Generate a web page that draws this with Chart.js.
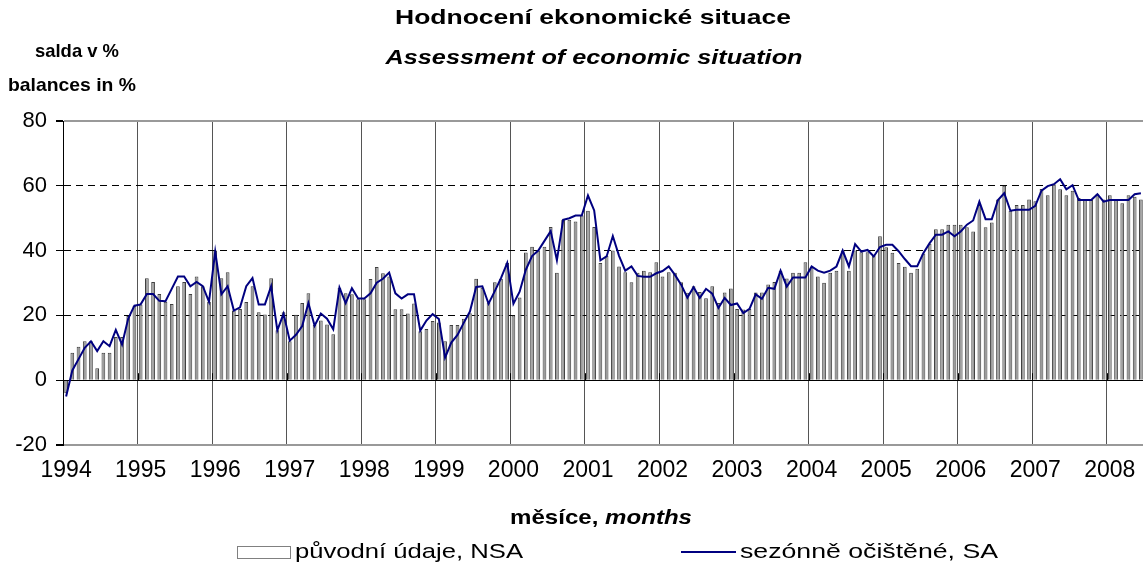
<!DOCTYPE html>
<html>
<head>
<meta charset="utf-8">
<script src="https://cdn.jsdelivr.net/npm/chart.js@4.4.0/dist/chart.umd.min.js"></script>
<style>
  html, body { margin: 0; padding: 0; background: #fff; overflow: hidden; }
  #wrap { width: 1144px; height: 574px; }
</style>
</head>
<body>
<div id="wrap"><canvas id="graf" width="1144" height="574"></canvas></div>
<script>
// years shown on the x axis (one label per January)
const years = [1994, 1995, 1996, 1997, 1998, 1999, 2000, 2001, 2002, 2003, 2004, 2005, 2006, 2007, 2008];

// původní údaje, NSA (monthly, Jan 1994 - Jun 2008)
const nsa = [
  -4, 8.5, 10.3, 12, 12, 3.7, 8.5, 8.5, 13.3, 13.3, 19.8, 23,          // 1994
  23.4, 31.5, 30.3, 26.6, 24.2, 23.5, 29, 30.3, 26.6, 32, 29, 24.2,    // 1995
  40, 31.5, 33.3, 21.5, 22, 24.1, 29, 21, 20.3, 31.5, 15.4, 21,        // 1996
  12, 20.2, 23.8, 26.8, 17, 18.4, 17.2, 14.2, 28.5, 26.8, 26.5, 25,    // 1997
  25, 31.2, 34.9, 33, 32, 21.9, 21.9, 20.6, 23.7, 15.1, 15.8, 18.3,    // 1998
  17.8, 12, 17, 17, 19, 20.7, 31.3, 28.5, 24, 30.2, 31.3, 36.2,        // 1999
  20, 25.5, 39.4, 41.2, 40, 41.2, 47.3, 33.2, 49.5, 49.5, 49, 50.9,    // 2000
  52.3, 47.3, 36.2, 38.4, 40, 35.1, 33.3, 30.2, 33.2, 33.8, 33.3, 36.4, // 2001
  32, 33.3, 33.2, 30.2, 27, 29, 27.2, 25.3, 29, 23.8, 27.1, 28.3,      // 2002
  22, 21.8, 22, 27.1, 27.1, 29.5, 30.3, 33.8, 31.4, 33.2, 33.2, 36.4,  // 2003
  34.8, 32, 30.1, 33.2, 33.8, 40, 33.8, 40, 39.5, 39.5, 38.5, 44.4,    // 2004
  41, 39.3, 36.2, 35, 33.2, 34.4, 39.1, 42.1, 46.6, 46.6, 48, 48,      // 2005
  48, 47.2, 45.9, 54.1, 47.2, 48.7, 55.8, 60, 52.3, 54.1, 54.1, 55.8,  // 2006
  55.2, 59, 57.1, 60.5, 58.9, 57.1, 58.5, 56.2, 55.7, 55.6, 57.4, 55.8, // 2007
  57.1, 55.8, 54.6, 57.1, 56.6, 55.8                                   // 2008
];

// sezónně očištěné, SA
const sa = [
  -5, 3, 6.5, 10, 12, 9, 12, 10.5, 15.5, 11, 19, 23,
  23.4, 26.6, 26.6, 24.5, 24.4, 28.2, 32, 32, 29, 30.3, 29, 24.2,
  39.7, 26.5, 29, 21.5, 22.5, 29, 31.5, 23.4, 23.4, 29, 15.4, 20.5,
  12.2, 14, 16.7, 23.8, 16.8, 20.6, 19, 15.7, 28.6, 23.8, 28.4, 25.2,
  25.2, 26.8, 30.1, 31.3, 33.2, 26.8, 25.2, 26.5, 26.5, 15.3, 18.4, 20.4,
  18.9, 7, 11.6, 14, 17.7, 21.2, 28.8, 29, 23.6, 27.5, 31.5, 36.2,
  23.6, 27.3, 34.1, 38.3, 40, 43, 46, 37, 49.5, 50, 50.8, 50.8,
  57, 52.4, 37, 38.2, 44.5, 38.4, 33.8, 35.1, 32.2, 31.9, 31.9, 33,
  33.7, 35.1, 32.5, 29.5, 25.5, 28.7, 25.4, 28.2, 26.7, 22.3, 25.4, 23.2,
  23.7, 20.7, 22, 26.5, 25.1, 28.5, 28.2, 33.8, 28.9, 31.7, 31.7, 31.7,
  35.1, 33.8, 33.2, 33.8, 35.1, 40, 35.1, 42, 39.7, 40.2, 38.2, 41.1,
  41.8, 41.8, 39.8, 37.4, 35.2, 35.2, 39.3, 42.3, 44.9, 44.9, 45.9, 44.4,
  45.9, 48, 49.3, 55.1, 49.7, 49.7, 55.6, 57.7, 52.3, 52.6, 52.6, 52.6,
  53.8, 58.5, 59.9, 60.5, 62, 58.9, 60.2, 55.6, 55.6, 55.6, 57.4, 55.1,
  55.6, 55.6, 55.6, 55.6, 57.4, 57.7
];

// month categories
const months = [];
years.forEach(y => {
  for (let m = 1; m <= 12; m++) months.push(y + '-' + (m < 10 ? '0' + m : m));
});
months.length = nsa.length;

const FONT = '"Liberation Sans", Arial, sans-serif';

// text squeezed/stretched horizontally to a given width (the source picture is widened)
function textW(c, txt, x, y, font, width, align) {
  c.font = font;
  const w = c.measureText(txt).width;
  const k = width / w;
  let left = x;
  if (align === 'center') left = x - width / 2;
  c.save();
  c.translate(left, y);
  c.scale(k, 1);
  c.textAlign = 'left';
  c.fillText(txt, 0, 0);
  c.restore();
}

// titles, axis title and legend drawn by hand
const texty = {
  id: 'texty',
  afterDraw(chart) {
    const c = chart.ctx;
    c.save();
    c.fillStyle = '#000';
    c.textBaseline = 'middle';
    textW(c, 'Hodnocení ekonomické situace', 593, 18, 'bold 21px ' + FONT, 396, 'center');
    textW(c, 'Assessment of economic situation', 594, 58, 'italic bold 21px ' + FONT, 417, 'center');
    textW(c, 'salda v %', 77, 52, 'bold 19px ' + FONT, 84, 'center');
    textW(c, 'balances in %', 72, 86, 'bold 19px ' + FONT, 128, 'center');

    // x axis title: "měsíce, months"
    c.font = 'bold 21px ' + FONT;
    const a = 'měsíce, ';
    const wa = c.measureText(a).width;
    c.font = 'italic bold 21px ' + FONT;
    const wb = c.measureText('months').width;
    const k = 182 / (wa + wb);
    c.save();
    c.translate(601 - 91, 518);
    c.scale(k, 1);
    c.font = 'bold 21px ' + FONT;
    c.fillText(a, 0, 0);
    c.font = 'italic bold 21px ' + FONT;
    c.fillText('months', wa, 0);
    c.restore();

    // small marks on the zero line at each year boundary
    const xs = chart.scales.x, ys = chart.scales.y;
    const y0 = ys.getPixelForValue(0);
    const half = (xs.getPixelForValue(1) - xs.getPixelForValue(0)) / 2;
    c.strokeStyle = '#000';
    c.lineWidth = 1;
    c.beginPath();
    for (let i = 12; i < months.length; i += 12) {
      const x = Math.round(xs.getPixelForValue(i) - half) + 0.5;
      c.moveTo(x, y0);
      c.lineTo(x, y0 - 7);
    }
    c.stroke();

    // legend
    c.fillStyle = '#fff';
    c.strokeStyle = '#808080';
    c.lineWidth = 1;
    c.fillRect(237.5, 546.5, 53, 12);
    c.strokeRect(237.5, 546.5, 53, 12);
    c.strokeStyle = '#000080';
    c.lineWidth = 2;
    c.beginPath();
    c.moveTo(681, 552);
    c.lineTo(736, 552);
    c.stroke();
    c.fillStyle = '#000';
    textW(c, 'původní údaje, NSA', 295, 552, '21px ' + FONT, 228, 'left');
    textW(c, 'sezónně očištěné, SA', 740, 552, '21px ' + FONT, 258, 'left');
    c.restore();
  }
};

new Chart(document.getElementById('graf'), {
  data: {
    labels: months,
    datasets: [
      {
        type: 'line',
        label: 'sezónně očištěné, SA',
        data: sa,
        borderColor: '#000080',
        borderWidth: 2,
        pointRadius: 0,
        tension: 0,
        order: 0
      },
      {
        type: 'bar',
        label: 'původní údaje, NSA',
        data: nsa,
        backgroundColor: '#9c9c9c',
        borderColor: '#404040',
        borderWidth: 1,
        barPercentage: 0.6,
        categoryPercentage: 1,
        order: 1
      }
    ]
  },
  options: {
    responsive: false,
    animation: false,
    layout: { padding: { top: 121, right: 0, bottom: 0, left: 0 } },
    plugins: {
      legend: { display: false },
      title: { display: false },
      tooltip: { enabled: false }
    },
    scales: {
      x: {
        offset: true,
        grid: {
          offset: true,
          color: ctx => (ctx.index % 12 === 0 ? '#555555' : 'rgba(0,0,0,0)'),
          lineWidth: 1,
          drawTicks: false
        },
        border: { display: false },
        ticks: {
          autoSkip: false,
          maxRotation: 0,
          padding: 12,
          color: '#000',
          font: { family: FONT, size: 23 },
          callback: (v, i) => (i % 12 === 0 ? String(years[i / 12]) : '')
        },
        afterFit: s => { s.height = 129; s.paddingLeft = 0; s.paddingRight = 0; }
      },
      y: {
        min: -20,
        max: 80,
        ticks: {
          stepSize: 20,
          padding: 9,
          color: '#000',
          font: { family: FONT, size: 22 }
        },
        grid: {
          color: ctx => {
            const v = ctx.tick ? ctx.tick.value : null;
            if (v === 80 || v === -20) return '#999999';
            return '#000';
          },
          lineWidth: ctx => (ctx.tick && (ctx.tick.value === 80 || ctx.tick.value === -20) ? 2 : 1),
          tickColor: '#000',
          tickLength: 7
        },
        border: {
          display: true,
          color: '#000',
          width: 1,
          dash: ctx => (ctx.tick && [20, 40, 60].includes(ctx.tick.value) ? [7, 5] : [])
        },
        afterFit: s => { s.width = 63; }
      }
    }
  },
  plugins: [texty]
});
</script>
</body>
</html>
